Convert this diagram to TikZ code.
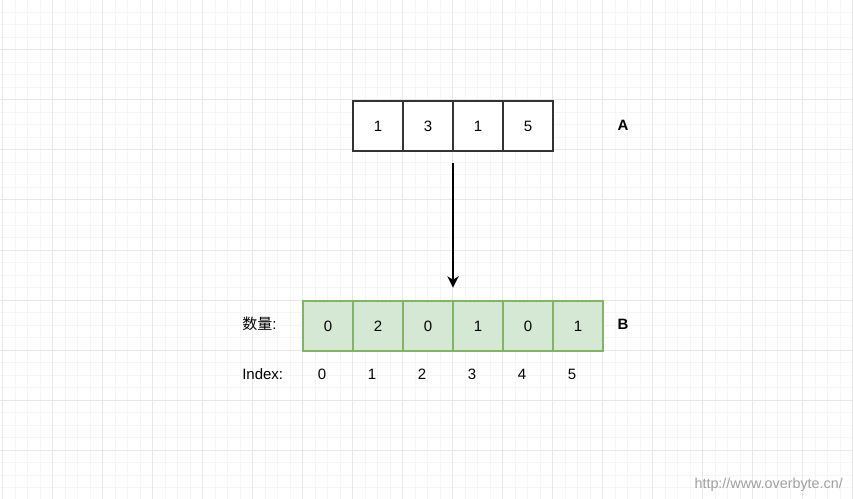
\documentclass[tikz,border=0pt]{standalone}
\usepackage{fontspec}
\setmainfont{Liberation Sans}
\newfontfamily\cjk{Noto Sans CJK SC}
\usetikzlibrary{arrows.meta}
\definecolor{gridminor}{HTML}{F5F5F5}
\definecolor{gridmajor}{HTML}{E8E8E8}
\definecolor{boxline}{HTML}{333333}
\definecolor{greenfill}{HTML}{D5E8D4}
\definecolor{greenline}{HTML}{82B366}
\definecolor{wmgray}{HTML}{A0A0A0}
\tikzset{
  cell/.style={draw=boxline, line width=1.1pt, fill=white, minimum width=37.5pt, minimum height=37.5pt, inner sep=0pt, outer sep=0pt, font=\fontsize{11.25}{13}\selectfont},
  gcell/.style={cell, draw=greenline, fill=greenfill},
  lbl/.style={inner sep=0pt, font=\fontsize{11.25}{13}\selectfont},
  blbl/.style={inner sep=0pt, font=\fontsize{11.25}{13}\selectfont\bfseries},
  conn/.style={draw=black, line width=1.1pt, -{Stealth[length=8.5pt,width=8.5pt,inset=2.5pt]}}
}
\begin{document}
\begin{tikzpicture}[x=0.75pt,y=-0.75pt]
\useasboundingbox (0,0) rectangle (853,499);
\fill[white] (0,0) rectangle (853,499);
% grid
\foreach \i in {0,...,68}{
  \draw[gridminor, line width=0.75pt] ({2.5+12.5*\i},0) -- ({2.5+12.5*\i},499);
}
\foreach \j in {0,...,40}{
  \draw[gridminor, line width=0.75pt] (0,{12.5*\j}) -- (853,{12.5*\j});
}
\foreach \i in {0,...,17}{
  \draw[gridmajor, line width=0.75pt] ({2.5+50*\i},0) -- ({2.5+50*\i},499);
}
\foreach \j in {1,...,9}{
  \draw[gridmajor, line width=0.75pt] (0,{50*\j}) -- (853,{50*\j});
}
% array A
\node[cell] (a1) at (378,126) {1};
\node[cell] (a2) at (428,126) {3};
\node[cell] (a3) at (478,126) {1};
\node[cell] (a4) at (528,126) {5};
\node[blbl] (la) at (623,125) {A};
% array B
\node[gcell] (b1) at (328,326) {0};
\node[gcell] (b2) at (378,326) {2};
\node[gcell] (b3) at (428,326) {0};
\node[gcell] (b4) at (478,326) {1};
\node[gcell] (b5) at (528,326) {0};
\node[gcell] (b6) at (578,326) {1};
\node[blbl] (lb) at (623,324) {B};
\node[lbl, anchor=west] (cnt) at (242,324) {{\cjk 数量}:};
\node[lbl, anchor=west] (idx) at (242,374) {Index:};
\node[lbl] (i0) at (322,374) {0};
\node[lbl] (i1) at (372,374) {1};
\node[lbl] (i2) at (422,374) {2};
\node[lbl] (i3) at (472,374) {3};
\node[lbl] (i4) at (522,374) {4};
\node[lbl] (i5) at (572,374) {5};
% arrow
\draw[conn, shorten <=9pt, shorten >=10pt] (a2.south east) -- (b3.north east);
% watermark
\node[inner sep=0pt, anchor=east, text=wmgray, font=\fontsize{10.75}{13}\selectfont] (wm) at (843,485) {http://www.overbyte.cn/};
\end{tikzpicture}
\end{document}
